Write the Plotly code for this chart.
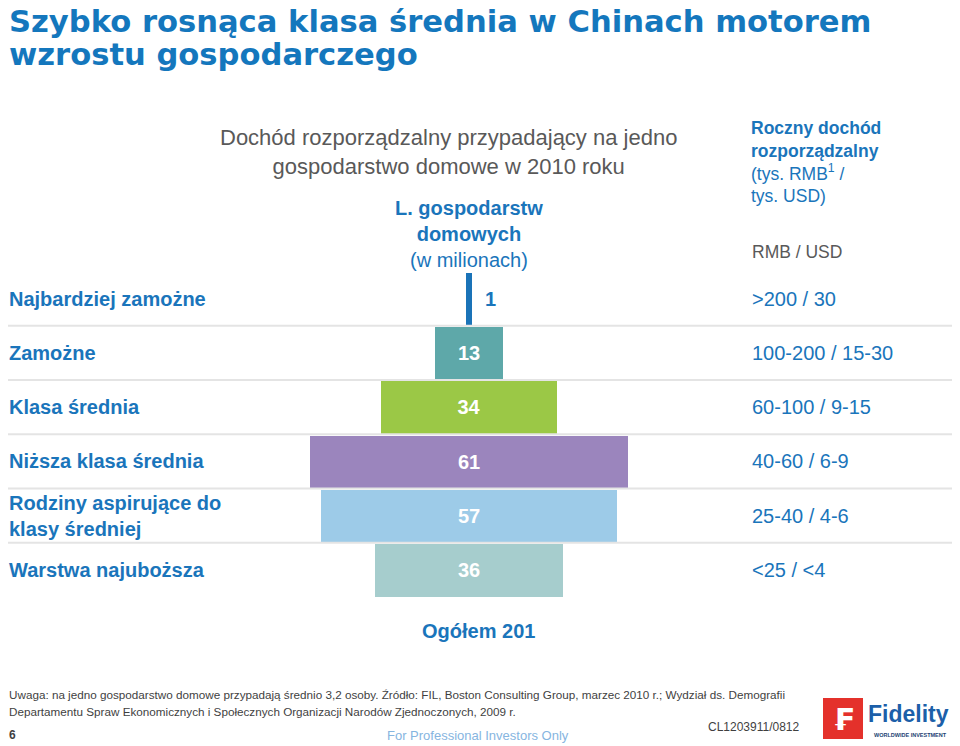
import plotly.graph_objects as go

# ---------------- data ----------------
categories = ["Najbardziej zamożne", "Zamożne", "Klasa średnia", "Niższa klasa średnia",
              "Rodziny aspirujące do<br>klasy średniej", "Warstwa najuboższa"]
households_mln = [1, 13, 34, 61, 57, 36]
income_bands = [">200 / 30", "100-200 / 15-30", "60-100 / 9-15", "40-60 / 6-9", "25-40 / 4-6", "<25 / <4"]
bar_colors = ["#1a73b8", "#5ea8a9", "#9bc846", "#9b85bd", "#9dcbe8", "#a6cdcd"]
total_label = "Ogółem 201"

# page body has an 8px margin; size the figure so it fits exactly in the 960x746 window
OFF = 8
W, H = 960 - OFF, 746 - OFF
BLUE = "#1a75bb"
GRAY = "#595959"


def py(px):  # window pixel y -> paper y
    return 1 - (px - OFF) / H


def pxx(px):  # window pixel x -> paper x (never left of the figure)
    return max(0.0, (px - OFF) / W)


rows = list(range(len(categories)))
PX_PER_UNIT = 5.2
CENTER = 469 - OFF
half = [v / 2 for v in households_mln]

fig = go.Figure()
fig.add_trace(go.Bar(
    orientation="h",
    y=rows,
    x=households_mln,
    base=[-h for h in half],
    width=0.97,
    marker=dict(color=bar_colors, line=dict(width=0)),
    text=[str(v) for v in households_mln],
    textposition=["none" if v < 5 else "inside" for v in households_mln],
    insidetextanchor="middle",
    textfont=dict(family="Liberation Sans, Arial", size=20, color="white"),
    texttemplate="<b>%{text}</b>",
    hoverinfo="skip",
    showlegend=False,
))

annotations = []
# small-bar outside labels
for i, v in enumerate(households_mln):
    if v < 5:
        annotations.append(dict(x=v / 2, y=i, xref="x", yref="y", text=f"<b>{v}</b>",
                                showarrow=False, xanchor="left", xshift=11,
                                font=dict(family="Liberation Sans, Arial", size=20, color=BLUE)))
# left category labels
for i, c in enumerate(categories):
    annotations.append(dict(x=pxx(6), y=i, xref="paper", yref="y", text=f"<b>{c}</b>",
                            showarrow=False, xanchor="left", yanchor="middle", align="left",
                            borderpad=0,
                            font=dict(family="Liberation Sans, Arial", size=20, color=BLUE)))
# right income bands
for i, b in enumerate(income_bands):
    annotations.append(dict(x=pxx(750), y=i, xref="paper", yref="y", text=b,
                            showarrow=False, xanchor="left", yanchor="middle", align="left",
                            font=dict(family="Liberation Sans, Arial", size=20, color=BLUE)))

# title
TITLE_FONT = dict(family="DejaVu Sans", size=30.6, color="#1477bd")
annotations.append(dict(x=pxx(4), y=py(22), xref="paper", yref="paper",
                        text="<b>Szybko rosnąca klasa średnia w Chinach motorem</b>",
                        showarrow=False, xanchor="left", yanchor="middle", borderpad=0, font=TITLE_FONT))
annotations.append(dict(x=pxx(4), y=py(54.5), xref="paper", yref="paper",
                        text="<b>wzrostu gospodarczego</b>",
                        showarrow=False, xanchor="left", yanchor="middle", borderpad=0, font=TITLE_FONT))

# header
annotations.append(dict(x=pxx(448.5), y=py(152), xref="paper", yref="paper",
                        text="Dochód rozporządzalny przypadający na jedno<br>gospodarstwo domowe w 2010 roku",
                        showarrow=False, xanchor="center", yanchor="middle", align="center",
                        font=dict(family="Liberation Sans, Arial", size=22, color=GRAY)))
annotations.append(dict(x=pxx(469), y=py(234), xref="paper", yref="paper",
                        text="<b>L. gospodarstw</b><br><b>domowych</b><br>(w milionach)",
                        showarrow=False, xanchor="center", yanchor="middle", align="center",
                        font=dict(family="Liberation Sans, Arial", size=20, color=BLUE)))
annotations.append(dict(x=pxx(749), y=py(162), xref="paper", yref="paper",
                        text="<b>Roczny dochód</b><br><b>rozporządzalny</b><br>(tys. RMB<sup>1</sup> /<br>tys. USD)",
                        showarrow=False, xanchor="left", yanchor="middle", align="left",
                        font=dict(family="Liberation Sans, Arial", size=17.5, color=BLUE)))
annotations.append(dict(x=pxx(750), y=py(252), xref="paper", yref="paper",
                        text="RMB / USD", showarrow=False, xanchor="left", yanchor="middle",
                        font=dict(family="Liberation Sans, Arial", size=17.5, color=GRAY)))

# total
annotations.append(dict(x=pxx(478), y=py(631), xref="paper", yref="paper",
                        text=f"<b>{total_label}</b>", showarrow=False, xanchor="center", yanchor="middle",
                        font=dict(family="Liberation Sans, Arial", size=20, color=BLUE)))

# footer
FOOT = "#3f3f3f"
annotations.append(dict(x=pxx(5), y=py(694), xref="paper", yref="paper",
                        text="Uwaga: na jedno gospodarstwo domowe przypadają średnio 3,2 osoby. Źródło: FIL, Boston Consulting Group, marzec 2010 r.; Wydział ds. Demografii",
                        showarrow=False, xanchor="left", yanchor="middle", borderpad=0,
                        font=dict(family="Liberation Sans, Arial", size=11.7, color=FOOT)))
annotations.append(dict(x=pxx(5), y=py(711), xref="paper", yref="paper",
                        text="Departamentu Spraw Ekonomicznych i Społecznych Organizacji Narodów Zjednoczonych, 2009 r.",
                        showarrow=False, xanchor="left", yanchor="middle", borderpad=0,
                        font=dict(family="Liberation Sans, Arial", size=11.7, color=FOOT)))
annotations.append(dict(x=pxx(5), y=py(735), xref="paper", yref="paper", text="<b>6</b>",
                        showarrow=False, xanchor="left", yanchor="middle", borderpad=0,
                        font=dict(family="Liberation Sans, Arial", size=12, color=FOOT)))
annotations.append(dict(x=pxx(478), y=py(735), xref="paper", yref="paper",
                        text="For Professional Investors Only", showarrow=False,
                        xanchor="center", yanchor="middle",
                        font=dict(family="Liberation Sans, Arial", size=13, color="#86b5df")))
annotations.append(dict(x=pxx(754), y=py(727), xref="paper", yref="paper",
                        text="CL1203911/0812", showarrow=False, xanchor="center", yanchor="middle",
                        font=dict(family="Liberation Sans, Arial", size=12, color=FOOT)))

# logo
annotations.append(dict(x=pxx(843), y=py(719), xref="paper", yref="paper", text="<b>₣</b>",
                        showarrow=False, xanchor="center", yanchor="middle",
                        font=dict(family="DejaVu Sans", size=30, color="white")))
annotations.append(dict(x=pxx(867), y=py(714), xref="paper", yref="paper", text="<b>Fidelity</b>",
                        showarrow=False, xanchor="left", yanchor="middle", borderpad=0,
                        font=dict(family="Liberation Sans, Arial", size=23, color="#1c5fa9")))
annotations.append(dict(x=pxx(910), y=py(735), xref="paper", yref="paper", text="<b>WORLDWIDE INVESTMENT</b>",
                        showarrow=False, xanchor="center", yanchor="middle",
                        font=dict(family="Liberation Sans, Arial", size=5.5, color="#1c3f73")))
annotations.append(dict(x=pxx(951), y=py(702), xref="paper", yref="paper", text="™",
                        showarrow=False, xanchor="left", yanchor="middle", borderpad=0,
                        font=dict(family="Liberation Sans, Arial", size=7, color="#555555")))

shapes = []
for i in rows[:-1]:
    shapes.append(dict(type="line", xref="paper", yref="y", x0=pxx(5), x1=pxx(953),
                       y0=i + 0.5, y1=i + 0.5, line=dict(color="#e4e4e4", width=2), layer="above"))
shapes.append(dict(type="rect", xref="paper", yref="paper", x0=pxx(823), x1=pxx(863),
                   y0=py(739), y1=py(698), fillcolor="#e4312b", line=dict(width=0), layer="below"))

fig.update_layout(
    width=W, height=H,
    margin=dict(l=0, r=0, t=0, b=0),
    paper_bgcolor="white", plot_bgcolor="white",
    xaxis=dict(range=[-CENTER / PX_PER_UNIT, (W - CENTER) / PX_PER_UNIT], domain=[0, 1],
               visible=False, fixedrange=True),
    yaxis=dict(range=[5.5, -0.5], domain=[py(597), py(271.5)], visible=False, fixedrange=True),
    annotations=annotations,
    shapes=shapes,
    bargap=0,
    uniformtext=dict(minsize=10, mode="show"),
)

fig.write_html("out.html")
